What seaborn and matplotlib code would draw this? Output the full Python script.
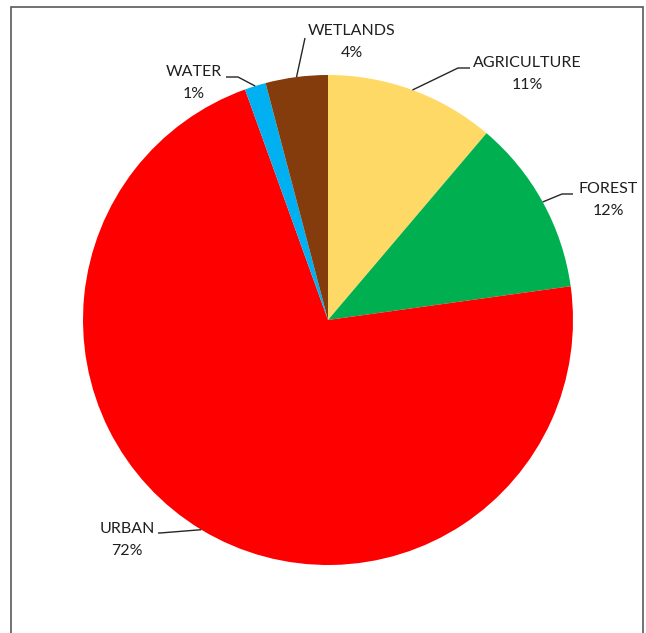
import matplotlib
matplotlib.use('Agg')
import numpy as np
import matplotlib.pyplot as plt
import seaborn as sns
from matplotlib.patches import Rectangle

# ---------------- DATA ----------------
categorias = ['AGRICULTURE', 'FOREST', 'URBAN', 'WATER', 'WETLANDS']
porcentajes = [11.2, 11.6, 71.7, 1.4, 4.1]
colores = ['#FFD966', '#00B050', '#FF0000', '#00B0F0', '#843C0C']

# ---------------- LAYOUT (pixels, y hacia abajo) ----------------
W, H = 646, 633
centro = (328, 320)
radio = 245
# posicion del texto (centro) y punto donde termina la linea guia
pos_texto = [(527, 74), (608, 200), (127, 540), (194, 83), (352, 42)]
codo = [(458, 68), (562, 194), (160, 533), (238, 77), (305, 38)]
fin_linea = [(470, 68), (573, 194), (158, 533), (226, 77), (305, 38)]

sns.set_theme(style='white')
plt.rcParams['font.family'] = ['Lato', 'DejaVu Sans']

fig = plt.figure(figsize=(W / 100, H / 100), dpi=100)
ax = fig.add_axes([0, 0, 1, 1])

cx, cy = centro[0], H - centro[1]
wedges, _ = ax.pie(porcentajes, colors=colores, startangle=90, counterclock=False,
                   center=(cx, cy), radius=radio, frame=True,
                   wedgeprops=dict(linewidth=0))
ax.set_xlim(0, W)
ax.set_ylim(0, H)
ax.set_aspect('equal')
ax.axis('off')

total = sum(porcentajes)
for i, w in enumerate(wedges):
    ang = np.deg2rad((w.theta1 + w.theta2) / 2)
    x0 = cx + radio * np.cos(ang)
    y0 = cy + radio * np.sin(ang)
    xs = [x0, codo[i][0], fin_linea[i][0]]
    ys = [y0, H - codo[i][1], H - fin_linea[i][1]]
    ax.plot(xs, ys, color='#262626', lw=1.0, solid_capstyle='butt')
    pct = round(porcentajes[i] / total * 100)
    tx, ty = pos_texto[i]
    ax.text(tx, H - ty, f'{categorias[i]}\n{pct}%', ha='center', va='center',
            multialignment='center', fontsize=11.5, color='#1f1f1f', linespacing=1.7)

# marco del grafico
ax.add_patch(Rectangle((11, -20), 631.5, H - 6.5 + 20, fill=False,
                       edgecolor='#595959', lw=1.2, clip_on=False))

fig.savefig('out.png', dpi=100, facecolor='white')
